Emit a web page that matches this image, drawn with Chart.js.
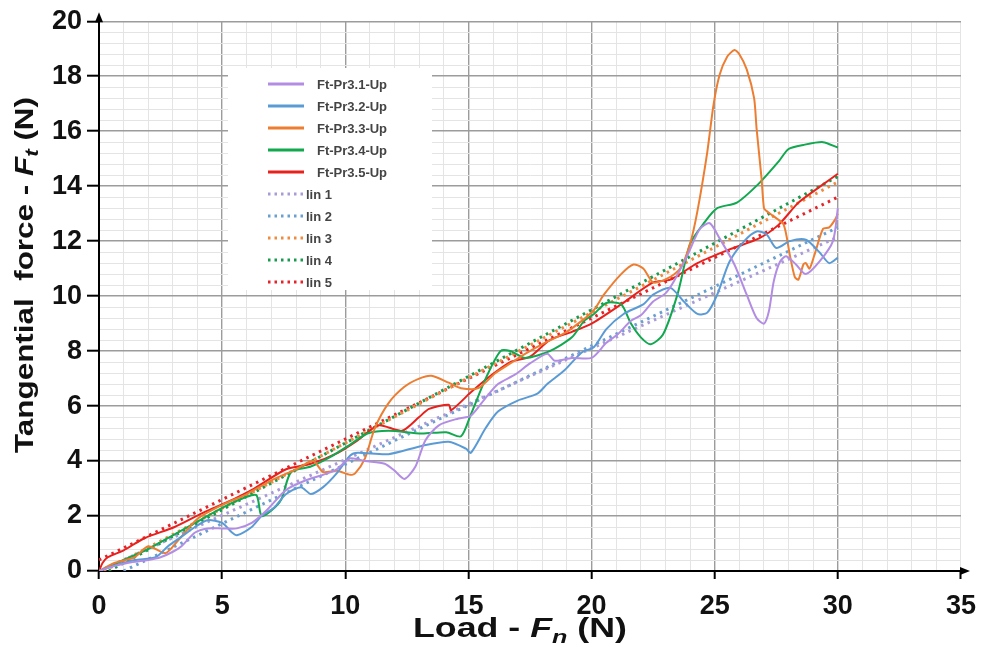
<!DOCTYPE html>
<html>
<head>
<meta charset="utf-8">
<script src="https://cdn.jsdelivr.net/npm/chart.js@4.4.1/dist/chart.umd.min.js"></script>
<style>
html, body { margin: 0; padding: 0; background: #fff; }
#wrap { width: 987px; height: 659px; }
</style>
</head>
<body>
<div id="wrap"><canvas id="forceChart" width="987" height="659"></canvas></div>
<script>
// series: load Fn (N) vs tangential force Ft (N)
var pr31X = [0, 0.5, 1.2, 2.0, 2.5, 3.0, 3.35, 3.9, 4.4, 5.0, 5.6, 6.2, 6.8, 7.6, 8.4, 9.1, 9.65, 10.2, 10.8, 11.6, 12.0, 12.4, 12.85, 13.25, 13.8, 14.6, 15.1, 15.7, 16.2, 16.9, 17.5, 18.2, 18.5, 19.2, 20.0, 20.6, 21.05, 21.6, 22.0, 22.5, 23.0, 23.35, 23.9, 24.4, 24.8, 25.2, 25.8, 26.3, 26.7, 27.0, 27.2, 27.4, 27.65, 27.9, 28.3, 28.7, 29.25, 29.8, 30.0]
var pr31Y = [0, 0.15, 0.3, 0.4, 0.5, 0.7, 0.9, 1.4, 1.55, 1.55, 1.55, 1.75, 2.2, 2.95, 3.3, 3.5, 3.7, 4.1, 4.0, 3.9, 3.65, 3.35, 3.8, 4.75, 5.3, 5.55, 5.65, 6.3, 6.8, 7.15, 7.55, 7.9, 7.65, 7.75, 7.75, 8.3, 8.6, 9.1, 9.3, 9.8, 10.1, 10.55, 11.5, 12.45, 12.65, 12.1, 11.15, 10.05, 9.2, 9.0, 9.45, 10.55, 11.25, 11.45, 11.15, 10.8, 11.25, 12.0, 13.2]

var pr32X = [0, 0.65, 1.45, 2.3, 2.8, 3.35, 3.9, 4.4, 5.0, 5.4, 5.6, 6.2, 6.6, 7.1, 7.6, 8.2, 8.6, 9.1, 9.65, 10.2, 10.5, 11.75, 13.1, 14.2, 14.9, 15.1, 15.7, 16.2, 17.0, 17.8, 18.2, 18.9, 19.6, 20.1, 20.6, 21.3, 22.1, 22.5, 23.2, 23.75, 24.3, 24.7, 25.1, 25.6, 26.2, 26.7, 27.1, 27.5, 28.05, 28.7, 29.25, 29.65, 30.0]
var pr32Y = [0, 0.2, 0.4, 0.5, 0.9, 1.25, 1.6, 1.85, 1.75, 1.4, 1.3, 1.6, 2.0, 2.3, 2.8, 3.05, 2.8, 3.05, 3.55, 4.2, 4.3, 4.25, 4.55, 4.7, 4.45, 4.3, 5.2, 5.8, 6.2, 6.45, 6.8, 7.3, 7.95, 8.15, 8.8, 9.35, 9.7, 10.05, 10.3, 9.8, 9.35, 9.4, 10.05, 11.25, 12.0, 12.35, 12.25, 11.75, 12.0, 12.05, 11.6, 11.2, 11.4]

var pr33X = [0, 0.65, 1.45, 2.0, 2.7, 3.2, 4.0, 5.0, 6.0, 7.0, 8.0, 8.7, 9.1, 9.65, 10.2, 10.4, 10.8, 11.2, 11.75, 12.4, 13.0, 13.5, 14.2, 14.7, 15.4, 16.1, 16.7, 17.3, 18.1, 18.9, 19.6, 20.1, 20.5, 21.2, 21.7, 22.1, 22.5, 23.1, 23.6, 24.0, 24.3, 24.7, 24.95, 25.2, 25.5, 25.8, 26.0, 26.3, 26.6, 26.7, 26.9, 27.0, 27.1, 27.4, 27.8, 28.05, 28.25, 28.4, 28.6, 28.7, 28.85, 29.05, 29.4, 29.65, 29.9, 30.0]
var pr33Y = [0, 0.3, 0.5, 0.9, 0.65, 1.1, 1.9, 2.4, 2.8, 3.3, 3.7, 4.0, 3.6, 3.65, 3.5, 3.55, 4.1, 5.2, 6.1, 6.7, 7.0, 7.1, 6.85, 6.65, 6.65, 7.2, 7.55, 7.9, 8.3, 8.65, 9.1, 9.5, 10.05, 10.8, 11.15, 11.0, 10.5, 10.65, 11.0, 11.9, 13.1, 15.25, 16.95, 18.05, 18.7, 18.95, 18.8, 18.25, 17.2, 16.1, 14.3, 13.2, 13.1, 12.9, 12.6, 11.5, 10.7, 10.6, 11.15, 11.2, 11.0, 11.5, 12.45, 12.5, 12.8, 13.0]

var pr34X = [0, 1.0, 2.0, 3.0, 4.0, 5.0, 6.0, 6.4, 6.6, 7.0, 7.4, 7.8, 8.6, 9.4, 10.2, 10.9, 11.75, 13.1, 14.1, 14.7, 15.1, 15.7, 16.3, 16.7, 17.3, 18.3, 19.2, 19.7, 20.1, 20.6, 21.2, 21.6, 22.0, 22.4, 22.9, 23.5, 24.0, 24.6, 25.1, 25.9, 26.8, 27.6, 28.0, 28.6, 29.4, 30.0]
var pr34Y = [0, 0.4, 0.8, 1.3, 1.8, 2.3, 2.7, 2.75, 2.0, 2.2, 2.6, 3.6, 3.8, 4.15, 4.6, 5.0, 5.1, 5.0, 5.05, 4.9, 5.7, 7.0, 8.0, 8.0, 7.75, 8.0, 8.5, 9.1, 9.35, 9.75, 9.7, 9.0, 8.5, 8.25, 8.6, 10.1, 11.9, 12.7, 13.2, 13.4, 14.1, 14.9, 15.35, 15.5, 15.6, 15.4]

var pr35X = [0, 0.15, 0.36, 1.0, 1.86, 3.07, 4.3, 5.2, 6.3, 7.6, 8.6, 9.7, 10.5, 11.35, 12.3, 13.0, 13.4, 14.2, 14.3, 15.1, 15.9, 16.7, 17.5, 18.3, 19.2, 20.0, 21.2, 22.5, 23.2, 24.3, 25.6, 26.8, 27.6, 28.4, 29.3, 30.0]
var pr35Y = [0, 0.3, 0.5, 0.75, 1.2, 1.6, 2.15, 2.5, 3.0, 3.7, 3.9, 4.3, 4.75, 5.3, 5.1, 5.6, 5.9, 6.05, 5.85, 6.5, 7.1, 7.6, 7.8, 8.4, 8.7, 9.0, 9.7, 10.5, 10.6, 11.2, 11.7, 12.1, 12.6, 13.4, 14.0, 14.45]

// linear trend lines, end points
var lin1X = [0, 30],   lin1Y = [0, 12.15]
var lin2X = [1.0, 30], lin2Y = [0, 12.5]
var lin3X = [0.2, 30], lin3Y = [0, 14.15]
var lin4X = [0.4, 30], lin4Y = [0, 14.35]
var lin5X = [0, 30],   lin5Y = [0.4, 13.6]

var seriesLabels = ["Ft-Pr3.1-Up", "Ft-Pr3.2-Up", "Ft-Pr3.3-Up", "Ft-Pr3.4-Up", "Ft-Pr3.5-Up", "lin 1", "lin 2", "lin 3", "lin 4", "lin 5"]
var xTicks = [0, 5, 10, 15, 20, 25, 30, 35]
var yTicks = [0, 2, 4, 6, 8, 10, 12, 14, 16, 18, 20]

var FONT = 'Arial, "Liberation Sans", sans-serif'

function pts(xs, ys) {
    return xs.map((x, i) => ({ x: x, y: ys[i] }))
}

function solid(label, xs, ys, color) {
    return { label: label, data: pts(xs, ys), borderColor: color, backgroundColor: color,
        borderWidth: 2, showLine: true, pointRadius: 0, tension: 0.25, fill: false }
}

function dotted(label, xs, ys, color) {
    return { label: label, data: pts(xs, ys), borderColor: color, backgroundColor: color,
        borderWidth: 3, borderDash: [2.5, 4.5], showLine: true, pointRadius: 0, fill: false, dotted: true }
}

var datasets = [
    solid(seriesLabels[0], pr31X, pr31Y, "#b28de3"),
    solid(seriesLabels[1], pr32X, pr32Y, "#5b9bd5"),
    solid(seriesLabels[2], pr33X, pr33Y, "#ed7d31"),
    solid(seriesLabels[3], pr34X, pr34Y, "#12a84f"),
    solid(seriesLabels[4], pr35X, pr35Y, "#e8211c"),
    dotted(seriesLabels[5], lin1X, lin1Y, "#a99ad8"),
    dotted(seriesLabels[6], lin2X, lin2Y, "#6a9fd0"),
    dotted(seriesLabels[7], lin3X, lin3Y, "#ef8a3e"),
    dotted(seriesLabels[8], lin4X, lin4Y, "#1a9a4e"),
    dotted(seriesLabels[9], lin5X, lin5Y, "#e6232a")
]

function isOn(v, list) {
    return list.some(t => Math.abs(t - v) < 1e-6)
}

// rich text: bold, with italic + subscript part
function drawRich(ctx, parts, cx, cy, angle, size, targetW) {
    ctx.save()
    ctx.translate(cx, cy)
    ctx.rotate(angle)
    const fontOf = p => (p.it ? 'italic ' : '') + 'bold ' + (p.sub ? Math.round(size * 0.7) : size) + 'px ' + FONT
    let widths = [], w = 0
    parts.forEach(p => { ctx.font = fontOf(p); let m = ctx.measureText(p.t).width; widths.push(m); w += m })
    ctx.scale(targetW / w, 1)
    let x = -w / 2
    ctx.textBaseline = 'middle'
    ctx.fillStyle = '#111'
    parts.forEach((p, i) => {
        ctx.font = fontOf(p)
        ctx.fillText(p.t, x, p.sub ? size * 0.28 : 0)
        x += widths[i]
    })
    ctx.restore()
}

var extrasPlugin = {
    id: 'extras',
    afterDatasetsDraw(chart) {
        const ctx = chart.ctx
        // legend box inside the plot
        ctx.save()
        ctx.fillStyle = '#fff'
        ctx.fillRect(228, 68, 204, 222)
        ctx.font = 'bold 13px ' + FONT
        ctx.textBaseline = 'middle'
        chart.data.datasets.forEach((ds, i) => {
            const y = 84 + i * 22
            ctx.beginPath()
            ctx.strokeStyle = ds.borderColor
            ctx.lineWidth = 3
            ctx.setLineDash(ds.dotted ? [2.5, 4] : [])
            ctx.moveTo(268, y)
            ctx.lineTo(304, y)
            ctx.stroke()
            ctx.setLineDash([])
            ctx.fillStyle = '#444'
            ctx.fillText(ds.label, ds.dotted ? 306 : 317, y + 1)
        })
        ctx.restore()
    },
    afterDraw(chart) {
        const ctx = chart.ctx
        const a = chart.chartArea
        ctx.save()
        ctx.fillStyle = '#000'
        ctx.strokeStyle = '#000'
        ctx.lineWidth = 2
        // y axis arrow
        ctx.beginPath()
        ctx.moveTo(a.left, a.top)
        ctx.lineTo(a.left, a.top - 6)
        ctx.stroke()
        ctx.beginPath()
        ctx.moveTo(a.left, a.top - 9)
        ctx.lineTo(a.left - 4, a.top + 1)
        ctx.lineTo(a.left + 4, a.top + 1)
        ctx.closePath()
        ctx.fill()
        // x axis arrow
        ctx.beginPath()
        ctx.moveTo(a.right + 9, a.bottom)
        ctx.lineTo(a.right - 1, a.bottom - 4)
        ctx.lineTo(a.right - 1, a.bottom + 4)
        ctx.closePath()
        ctx.fill()
        ctx.restore()

        drawRich(ctx, [{ t: 'Load - ' }, { t: 'F', it: true }, { t: 'n', it: true, sub: true }, { t: ' (N)' }],
            520, 630, 0, 27, 214)
        drawRich(ctx, [{ t: 'Tangential  force - ' }, { t: 'F', it: true }, { t: 't', it: true, sub: true }, { t: ' (N)' }],
            26, 275, -Math.PI / 2, 25, 356)
    }
}

new Chart(document.getElementById('forceChart').getContext('2d'), {
    type: 'scatter',
    data: { datasets: datasets },
    plugins: [extrasPlugin],
    options: {
        responsive: false,
        animation: false,
        devicePixelRatio: 1,
        layout: { padding: { left: 0, top: 19, right: 22, bottom: 0 } },
        plugins: { legend: { display: false }, tooltip: { enabled: false } },
        scales: {
            x: {
                type: 'linear', min: 0, max: 35,
                afterFit: s => { s.height = 88 },
                ticks: {
                    stepSize: 1, autoSkip: false, maxRotation: 0, padding: 11, color: '#111',
                    font: { size: 27, weight: 'bold', family: FONT },
                    callback: v => isOn(v, xTicks) ? String(v) : ''
                },
                grid: {
                    tickLength: 8,
                    color: c => (isOn(c.tick.value, xTicks) && c.tick.value < 35) ? '#9c9c9c' : '#e4e4e4',
                    lineWidth: c => (isOn(c.tick.value, xTicks) && c.tick.value < 35) ? 1.4 : 1,
                    tickColor: c => isOn(c.tick.value, xTicks) ? '#000' : 'rgba(0,0,0,0)',
                    tickWidth: 2
                },
                border: { display: true, color: '#000', width: 2 }
            },
            y: {
                type: 'linear', min: 0, max: 20,
                afterFit: s => { s.width = 99 },
                ticks: {
                    stepSize: 0.4, autoSkip: false, padding: 5, color: '#111',
                    font: { size: 27, weight: 'bold', family: FONT },
                    callback: v => isOn(v, yTicks) ? String(v) : ''
                },
                grid: {
                    tickLength: 12,
                    color: c => isOn(c.tick.value, yTicks) ? '#9c9c9c' : '#e4e4e4',
                    lineWidth: c => isOn(c.tick.value, yTicks) ? 1.4 : 1,
                    tickColor: c => isOn(c.tick.value, yTicks) ? '#000' : 'rgba(0,0,0,0)',
                    tickWidth: 2
                },
                border: { display: true, color: '#000', width: 2 }
            }
        }
    }
})
</script>
</body>
</html>
